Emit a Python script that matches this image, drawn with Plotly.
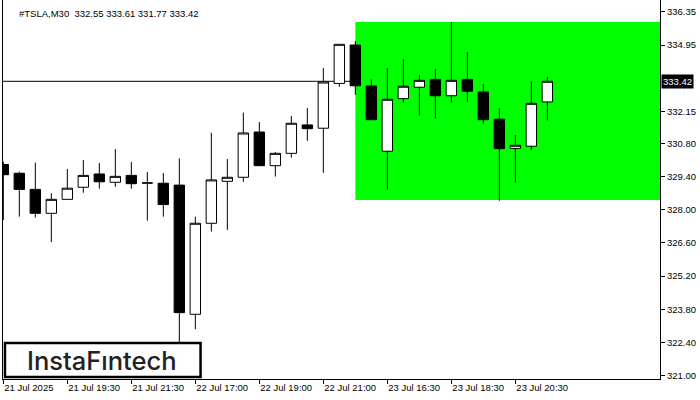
import plotly.graph_objects as go

symbol = "#TSLA,M30"
bar_index = list(range(35))
opens = [329.91, 329.54, 328.86, 327.85, 328.44, 328.95, 329.51, 329.16, 329.45, 329.13,
         329.12, 329.04, 323.59, 327.43, 329.20, 329.37, 331.28, 329.86, 330.38, 331.58,
         331.44, 333.33, 334.95, 333.22, 330.47, 332.69, 333.17, 333.50, 332.81, 333.50,
         332.97, 331.82, 330.59, 330.68, 332.55]
highs = [330.03, 329.61, 329.99, 328.70, 329.72, 330.10, 329.97, 330.56, 330.02, 329.59,
         329.55, 330.17, 327.71, 331.25, 330.14, 332.10, 331.70, 330.44, 331.96, 332.29,
         333.98, 334.98, 335.12, 333.50, 333.98, 334.36, 333.69, 333.94, 335.92, 334.66,
         333.31, 332.29, 331.15, 333.42, 333.61]
lows = [327.57, 327.71, 327.67, 326.64, 328.44, 328.72, 328.89, 328.97, 328.89, 327.54,
        327.71, 322.42, 322.96, 327.08, 327.15, 329.18, 329.86, 329.40, 330.20, 330.91,
        329.56, 333.19, 332.85, 331.80, 328.85, 332.52, 331.97, 331.84, 332.52, 332.56,
        331.63, 328.38, 329.14, 330.53, 331.77]
closes = [329.48, 328.86, 327.85, 328.44, 328.91, 329.45, 329.18, 329.41, 329.10, 329.13,
          328.22, 323.66, 327.43, 329.26, 329.37, 331.24, 329.86, 330.38, 331.65, 331.42,
          333.39, 334.98, 333.23, 331.80, 332.66, 333.21, 333.46, 332.81, 333.46, 333.00,
          331.80, 330.58, 330.72, 332.49, 333.42]

tick_bars = [0, 4, 8, 12, 16, 20, 24, 28, 32]
tick_labels = ["21 Jul 2025", "21 Jul 19:30", "21 Jul 21:30", "22 Jul 17:00", "22 Jul 19:00",
               "22 Jul 21:00", "23 Jul 16:30", "23 Jul 18:30", "23 Jul 20:30"]
price_ticks = [336.35, 334.95, 332.15, 330.80, 329.40, 328.00, 326.60, 325.20, 323.80, 322.40, 321.00]

zone_start_bar = 22
zone_top = 335.92
zone_bottom = 328.41
bid = closes[-1]

FONT = "Liberation Sans"

fig = go.Figure()
fig.add_trace(go.Candlestick(
    x=bar_index, open=opens, high=highs, low=lows, close=closes,
    increasing=dict(fillcolor="#ffffff", line=dict(color="#000000", width=1)),
    decreasing=dict(fillcolor="#000000", line=dict(color="#000000", width=1)),
    whiskerwidth=0, showlegend=False, hoverinfo="skip",
))

fig.add_shape(type="rect", xref="x", yref="y", x0=zone_start_bar, x1=41.5,
              y0=zone_bottom, y1=zone_top, fillcolor="#00ff00", line=dict(width=0), layer="below")
fig.add_shape(type="line", xref="paper", yref="y", x0=0, x1=1, y0=bid, y1=bid,
              line=dict(color="#000000", width=1), layer="below")

# logo box
fig.add_shape(type="rect", xref="paper", yref="paper", x0=0.003, x1=0.3007, y0=0.0053, y1=0.095,
              fillcolor="#ffffff", line=dict(color="#000000", width=2.5), layer="above")
fig.add_annotation(xref="paper", yref="paper", x=0.1514, y=0.050, text="InstaFıntech",
                   showarrow=False, xanchor="center", yanchor="middle",
                   font=dict(family="Inter", size=25.5, color="#222222", weight=500))

title = f"{symbol}  {opens[-1]:.2f} {highs[-1]:.2f} {lows[-1]:.2f} {closes[-1]:.2f}"
fig.add_annotation(xref="paper", yref="paper", x=0, y=1, xanchor="left", yanchor="top",
                   xshift=14, yshift=-6, text=title, showarrow=False,
                   font=dict(family=FONT, size=9.5, color="#000000"))

fig.add_annotation(xref="paper", yref="y", x=1, y=bid, xanchor="left", yanchor="middle",
                   text=f"{bid:.2f}", showarrow=False, bgcolor="#000000", borderpad=1,
                   xshift=1, font=dict(family=FONT, size=9.5, color="#ffffff"))

fig.update_layout(
    width=700, height=400,
    margin=dict(l=3, r=40, t=0, b=21),
    paper_bgcolor="#ffffff", plot_bgcolor="#ffffff",
    boxgap=0.35, boxgroupgap=0,
    font=dict(family=FONT, size=9.5, color="#000000"),
)
fig.update_xaxes(
    range=[-0.02, 41.04], rangeslider=dict(visible=False),
    tickmode="array", tickvals=tick_bars, ticktext=tick_labels,
    ticks="outside", ticklen=4, tickcolor="#000000", ticklabelposition="outside right",
    showline=True, linecolor="#000000", linewidth=1, showgrid=False, zeroline=False,
    tickfont=dict(family=FONT, size=9.5, color="#000000"),
)
fig.update_yaxes(
    range=[320.86, 336.85], side="right",
    tickmode="array", tickvals=price_ticks, ticktext=[f"{v:.2f}" for v in price_ticks],
    ticks="outside", ticklen=4, tickcolor="#000000",
    showline=True, mirror=True, linecolor="#000000", linewidth=1, showgrid=False, zeroline=False,
    tickfont=dict(family=FONT, size=9.5, color="#000000"),
)

fig.write_html("out.html", config={"displayModeBar": False},
               post_script="document.body.style.margin='0';document.body.style.overflow='hidden';")
